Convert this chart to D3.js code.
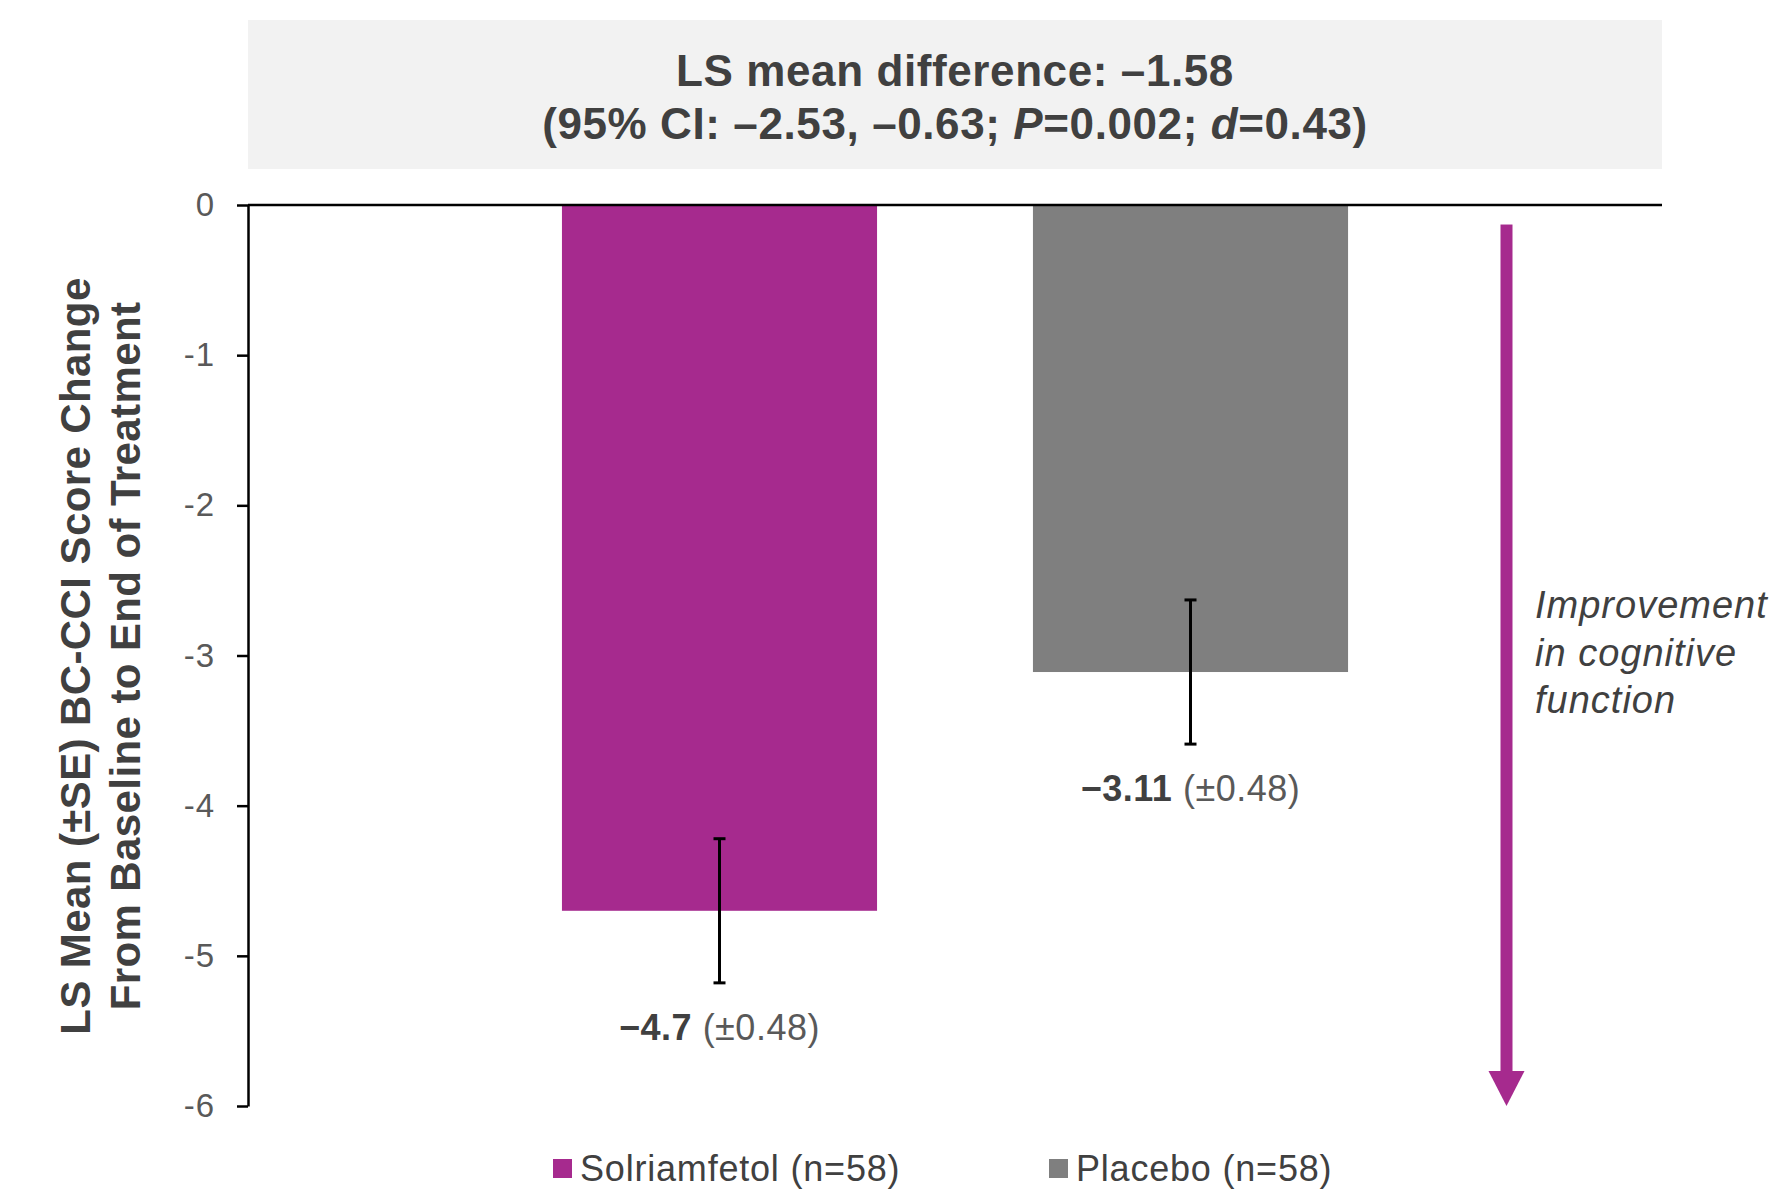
<!DOCTYPE html>
<html><head><meta charset="utf-8">
<script src="https://cdn.jsdelivr.net/npm/d3@7"></script>
<style>body{margin:0;background:#fff} svg{display:block;font-family:"Liberation Sans",Arial,sans-serif}</style>
</head><body>
<svg id="chart" width="1769" height="1190"></svg>
<script>
// ---- data ----
const categories = ["Solriamfetol (n=58)", "Placebo (n=58)"];
const means = [-4.7, -3.11];
const se = [0.48, 0.48];
const meanLabels = ["\u22124.7", "\u22123.11"];
const seLabels = ["(\u00B10.48)", "(\u00B10.48)"];
const colors = ["#A62A8E", "#7F7F7F"];
const yTicks = [0, -1, -2, -3, -4, -5, -6];
const yTitleLines = ["LS Mean (\u00B1SE) BC-CCI Score Change", "From Baseline to End of Treatment"];
const titleLine1 = "LS mean difference: \u20131.58";
const titleLine2 = [["(95% CI: \u20132.53, \u20130.63; ", false], ["P", true], ["=0.002; ", false], ["d", true], ["=0.43)", false]];
const arrowLines = ["Improvement", "in cognitive", "function"];

// ---- layout ----
const svg = d3.select("#chart");
const plot = {left: 248, right: 1662, top: 205, bottom: 1106};
const dark = "#404040", mid = "#595959";

const y = d3.scaleLinear().domain([0, -6]).range([plot.top, plot.bottom]);
const x = d3.scaleBand().domain(categories).range([484, 1426]).paddingInner(0.331).paddingOuter(0.1655);

// title box
svg.append("rect").attr("x", plot.left).attr("y", 20).attr("width", plot.right - plot.left).attr("height", 149).attr("fill", "#F2F2F2");
const tcx = (plot.left + plot.right) / 2;
svg.append("text").attr("x", tcx).attr("y", 86).attr("text-anchor", "middle")
  .attr("font-size", 44).attr("font-weight", "bold").attr("fill", dark).attr("letter-spacing", 0.6).text(titleLine1);
const t2 = svg.append("text").attr("x", tcx).attr("y", 139).attr("text-anchor", "middle")
  .attr("font-size", 44).attr("font-weight", "bold").attr("fill", dark).attr("letter-spacing", 0.6);
titleLine2.forEach(([s, it]) => t2.append("tspan").attr("font-style", it ? "italic" : "normal").text(s));

// bars
svg.selectAll("rect.bar").data(categories).join("rect").attr("class", "bar")
  .attr("x", d => x(d)).attr("width", x.bandwidth())
  .attr("y", y(0)).attr("height", (d, i) => y(means[i]) - y(0))
  .attr("fill", (d, i) => colors[i]);

// error bars
const eb = svg.selectAll("g.eb").data(categories).join("g").attr("class", "eb")
  .attr("transform", d => `translate(${x(d) + x.bandwidth() / 2},0)`)
  .attr("stroke", "#000").attr("stroke-width", 3);
eb.append("line").attr("x1", 0).attr("x2", 0).attr("y1", (d, i) => y(means[i] + se[i])).attr("y2", (d, i) => y(means[i] - se[i]));
eb.append("line").attr("x1", -6).attr("x2", 6).attr("y1", (d, i) => y(means[i] + se[i])).attr("y2", (d, i) => y(means[i] + se[i]));
eb.append("line").attr("x1", -6).attr("x2", 6).attr("y1", (d, i) => y(means[i] - se[i])).attr("y2", (d, i) => y(means[i] - se[i]));

// value labels
const vl = svg.selectAll("text.vl").data(categories).join("text").attr("class", "vl")
  .attr("x", d => x(d) + x.bandwidth() / 2).attr("y", (d, i) => y(means[i] - se[i]) + 57)
  .attr("text-anchor", "middle").attr("font-size", 36).attr("letter-spacing", 0.5);
vl.append("tspan").attr("font-weight", "bold").attr("fill", dark).text((d, i) => meanLabels[i]);
vl.append("tspan").attr("fill", mid).text((d, i) => " " + seLabels[i]);

// y axis
const ya = svg.append("g").attr("transform", `translate(${plot.left},0)`)
  .call(d3.axisLeft(y).tickValues(yTicks).tickSize(11).tickSizeOuter(0).tickPadding(22).tickFormat(d => String(d)));
ya.select(".domain").attr("stroke", "#000").attr("stroke-width", 2.5);
ya.selectAll(".tick line").attr("stroke", "#000").attr("stroke-width", 2.5);
ya.selectAll(".tick text").attr("font-size", 33).attr("fill", mid).attr("letter-spacing", 1)
  .attr("font-family", '"Liberation Sans",Arial,sans-serif');

// zero line
svg.append("line").attr("x1", plot.left).attr("x2", plot.right).attr("y1", y(0)).attr("y2", y(0))
  .attr("stroke", "#000").attr("stroke-width", 2.5);

// y title
const ymid = 656;
yTitleLines.forEach((s, i) => {
  svg.append("text").attr("transform", `translate(${90 + i * 50},${ymid}) rotate(-90)`)
    .attr("text-anchor", "middle").attr("font-size", 42).attr("font-weight", "bold").attr("fill", dark)
    .attr("letter-spacing", 0.4).text(s);
});

// arrow
const ax = 1506.5, headTop = 1071;
svg.append("rect").attr("x", ax - 6).attr("y", y(-0.13)).attr("width", 12).attr("height", headTop - y(-0.13)).attr("fill", colors[0]);
svg.append("path").attr("d", `M${ax - 18},${headTop}L${ax + 18},${headTop}L${ax},${y(-6)}Z`).attr("fill", colors[0]);
arrowLines.forEach((s, i) => {
  svg.append("text").attr("x", 1535).attr("y", 618 + i * 47.5).attr("font-size", 38).attr("font-style", "italic")
    .attr("fill", dark).attr("letter-spacing", 1).text(s);
});

// legend
const legX = [553, 1049];
categories.forEach((c, i) => {
  svg.append("rect").attr("x", legX[i]).attr("y", 1159).attr("width", 19).attr("height", 19).attr("fill", colors[i]);
  svg.append("text").attr("x", legX[i] + 27).attr("y", 1181).attr("font-size", 36).attr("fill", dark)
    .attr("letter-spacing", 0.8).text(c);
});
</script>
</body></html>
